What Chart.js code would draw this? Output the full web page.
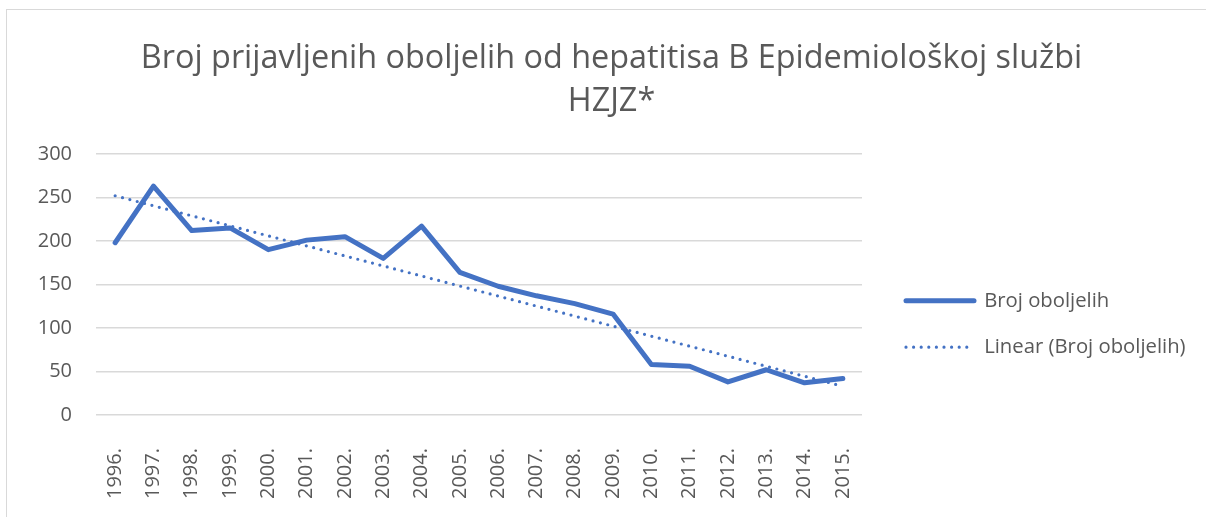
<!DOCTYPE html>
<html>
<head>
<meta charset="utf-8">
<script src="https://cdn.jsdelivr.net/npm/chart.js@4.4.0/dist/chart.umd.min.js"></script>
<style>
  html, body { margin:0; padding:0; background:#fff; overflow:hidden; }
  #box { position:absolute; left:6px; top:9px; width:1300px; height:600px;
         border-left:1.5px solid #d9d9d9; border-top:1.5px solid #d9d9d9; }
  #chart { position:absolute; left:0; top:0; }
</style>
</head>
<body>
<div id="box"><canvas id="chart" width="1209" height="508"></canvas></div>
<script>
// values
const years = ["1996.","1997.","1998.","1999.","2000.","2001.","2002.","2003.","2004.","2005.",
               "2006.","2007.","2008.","2009.","2010.","2011.","2012.","2013.","2014.","2015."];
const oboljeli = [198, 263, 212, 215, 190, 201, 205, 180, 217, 164,
                  148, 137, 128, 116, 58, 56, 38, 52, 37, 42];
// trend line (Excel linear), only its two ends
const trend = [252, null, null, null, null, null, null, null, null, null,
               null, null, null, null, null, null, null, null, null, 33];
const yTicks = [0, 50, 100, 150, 200, 250, 300];

const titleLines = ["Broj prijavljenih oboljelih od hepatitisa B Epidemiološkoj službi", "HZJZ*"];
const grey = "#595959";
const blue = "#4472C4";

Chart.defaults.font.family = "'Open Sans', sans-serif";
Chart.defaults.color = grey;

// legend: fixed width so the plot ends where excel ends it, then nudged
const legendBox = { width: 354, dx: 18, dy: 60 };
const legendFix = {
  id: "legendFix",
  beforeLayout(chart){
    const lg = chart.legend;
    if (!lg || lg._fixed) return;
    const fit = lg.fit;
    lg.fit = function(){ fit.call(this); this.width = legendBox.width; };
    lg._fixed = true;
  },
  afterLayout(chart){
    const lg = chart.legend;
    if (!lg) return;
    lg.left += legendBox.dx; lg.right += legendBox.dx;
    lg.top += legendBox.dy; lg.bottom += legendBox.dy;
  }
};

new Chart(document.getElementById("chart"), {
  type: "line",
  data: {
    labels: years,
    datasets: [
      { label: "Broj oboljelih", data: oboljeli, borderColor: blue, backgroundColor: blue,
        borderWidth: 5, pointRadius: 0, tension: 0, borderCapStyle: "round", borderJoinStyle: "round" },
      { label: "Linear (Broj oboljelih)", data: trend, spanGaps: true, borderColor: blue, backgroundColor: blue,
        borderWidth: 3.2, borderDash: [0, 7.6], borderCapStyle: "round", pointRadius: 0, tension: 0 }
    ]
  },
  options: {
    responsive: false,
    animation: false,
    layout: { padding: { left: 0, right: 0, top: 0, bottom: 0 } },
    plugins: {
      title: { display: true, text: titleLines, color: grey,
               font: { size: 32.4, weight: "normal", lineHeight: 1.33 },
               padding: { top: 27, bottom: 30.8 } },
      legend: { position: "right",
                labels: { usePointStyle: true, pointStyleWidth: 68,
                          font: { size: 20.3 }, color: grey, padding: 26,
                          generateLabels: (chart) => chart.data.datasets.map((ds, i) => ({
                            text: ds.label, datasetIndex: i, fontColor: grey,
                            strokeStyle: ds.borderColor, fillStyle: ds.borderColor,
                            lineWidth: ds.borderWidth, lineDash: ds.borderDash || [],
                            lineCap: ds.borderCapStyle, pointStyle: "line"
                          })) } },
      tooltip: { enabled: false }
    },
    scales: {
      x: {
        offset: true,
        afterFit: (ax) => { ax.height = 103; },
        grid: { display: false },
        border: { display: false },
        ticks: { minRotation: 90, maxRotation: 90, padding: 25, font: { size: 20 }, color: grey, autoSkip: false }
      },
      y: {
        min: 0, max: 300,
        afterBuildTicks: (ax) => { ax.ticks = yTicks.map(v => ({ value: v })); },
        afterFit: (ax) => { ax.width = 89; },
        grid: { color: "#d9d9d9", lineWidth: 1.5, drawTicks: false },
        border: { display: false },
        ticks: { padding: 24, font: { size: 20 }, color: grey }
      }
    }
  },
  plugins: [legendFix]
});
</script>
</body>
</html>
